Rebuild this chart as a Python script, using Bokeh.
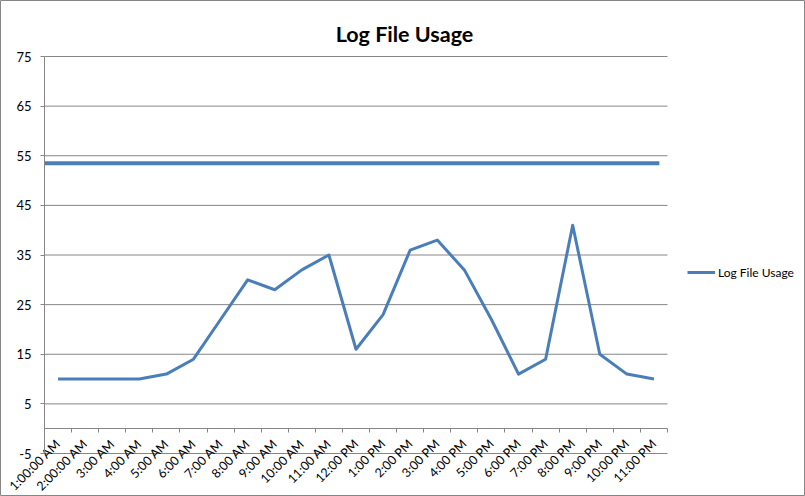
from bokeh.plotting import figure
from bokeh.models import FixedTicker, Legend, LegendItem, ColumnDataSource, Label
from bokeh.embed import file_html
from bokeh.resources import INLINE

# ---- data ----
hours = ["1:00:00 AM", "2:00:00 AM", "3:00 AM", "4:00 AM", "5:00 AM", "6:00 AM",
         "7:00 AM", "8:00 AM", "9:00 AM", "10:00 AM", "11:00 AM", "12:00 PM",
         "1:00 PM", "2:00 PM", "3:00 PM", "4:00 PM", "5:00 PM", "6:00 PM",
         "7:00 PM", "8:00 PM", "9:00 PM", "10:00 PM", "11:00 PM"]
usage = [10, 10, 10, 10, 11, 14, 22, 30, 28, 32, 35, 16,
         23, 36, 38, 32, 22, 11, 14, 41, 15, 11, 10]
limit_value = 53.5
limit_end = 23.2
y_ticks = [-5, 5, 15, 25, 35, 45, 55, 65, 75]
y_tick_labels = ["-5", "5", "15", "25", "35", "45", "55", "65", "75"]
y_min, y_max = -5, 75

FONT = "Lato"
BLUE = "#4A7EBB"
GRAY = "#868686"

W, H = 805, 496
# plot-area box (pixels) inside the chart
PL, PR, PT, PB = 44, 667, 56, 453

n = len(hours)
x_lo, x_hi = 0.5, n + 0.5
sx = (PR - PL) / (x_hi - x_lo)
sy = (PB - PT) / (y_max - y_min)
xr = (x_lo - PL / sx, x_hi + (W - PR) / sx)
yr = (y_min - (H - PB) / sy, y_max + PT / sy)


def px_x(px):
    return x_lo + (px - PL) / sx


def px_y(py):
    return y_max - (py - PT) / sy


xs = list(range(1, n + 1))
src = ColumnDataSource(dict(x=xs, y=usage))

p = figure(width=W, height=H, output_backend="svg", toolbar_location=None,
           x_range=xr, y_range=yr,
           min_border=0, min_border_left=0, min_border_right=0,
           min_border_top=0, min_border_bottom=0)
p.title.text = ""
p.title.visible = False
p.outline_line_color = GRAY
p.background_fill_color = "white"
p.border_fill_color = "white"

# grid (drawn over the plot area only)
p.xgrid.visible = False
p.ygrid.visible = False
p.segment(x0=[x_lo] * len(y_ticks), x1=[x_hi] * len(y_ticks), y0=y_ticks, y1=y_ticks,
          line_color=GRAY, line_width=1)

# y axis
ya = p.yaxis[0]
ya.fixed_location = x_lo
ya.bounds = (y_min, y_max)
ya.ticker = FixedTicker(ticks=y_ticks)
ya.major_label_overrides = {t: s for t, s in zip(y_ticks, y_tick_labels)}
ya.axis_line_color = GRAY
ya.major_tick_line_color = GRAY
ya.major_tick_out = 4
ya.major_tick_in = 0
ya.minor_tick_line_color = None
ya.major_label_text_font = FONT
ya.major_label_text_font_size = "13px"
ya.major_label_text_color = "#000000"
ya.major_label_standoff = 9

# x axis crossing at 0
xa = p.xaxis[0]
xa.fixed_location = 0
xa.bounds = (x_lo, x_hi)
xa.ticker = FixedTicker(ticks=xs, minor_ticks=[i + 0.5 for i in range(0, n + 1)])
xa.major_label_overrides = {x: h for x, h in zip(xs, hours)}
xa.major_label_orientation = 0.785398
xa.axis_line_color = GRAY
xa.major_tick_line_color = None
xa.major_tick_out = 0
xa.major_tick_in = 0
xa.minor_tick_line_color = GRAY
xa.minor_tick_out = 4
xa.minor_tick_in = 0
xa.major_label_text_font = FONT
xa.major_label_text_font_size = "12.5px"
xa.major_label_text_color = "#000000"
xa.major_label_standoff = 9

# limit line
p.line([x_lo, limit_end], [limit_value, limit_value], line_color=BLUE, line_width=4)

# series
r = p.line("x", "y", source=src, line_color=BLUE, line_width=3, line_join="round")

# title
title = Label(x=px_x(404), y=px_y(33), text="Log File Usage", text_align="center",
              text_baseline="alphabetic", text_font=FONT, text_font_size="21.5px",
              text_font_style="bold", text_color="#000000")
p.add_layout(title)

legend = Legend(items=[LegendItem(label="Log File Usage", renderers=[r])],
                location=(687, H - 282), padding=0, margin=0, spacing=0,
                border_line_color=None, background_fill_alpha=0,
                glyph_width=28, glyph_height=20, label_standoff=3,
                label_text_font=FONT, label_text_font_size="12px",
                label_text_color="#000000")
p.add_layout(legend, "center")

open("out.html", "w").write(file_html(p, INLINE))
